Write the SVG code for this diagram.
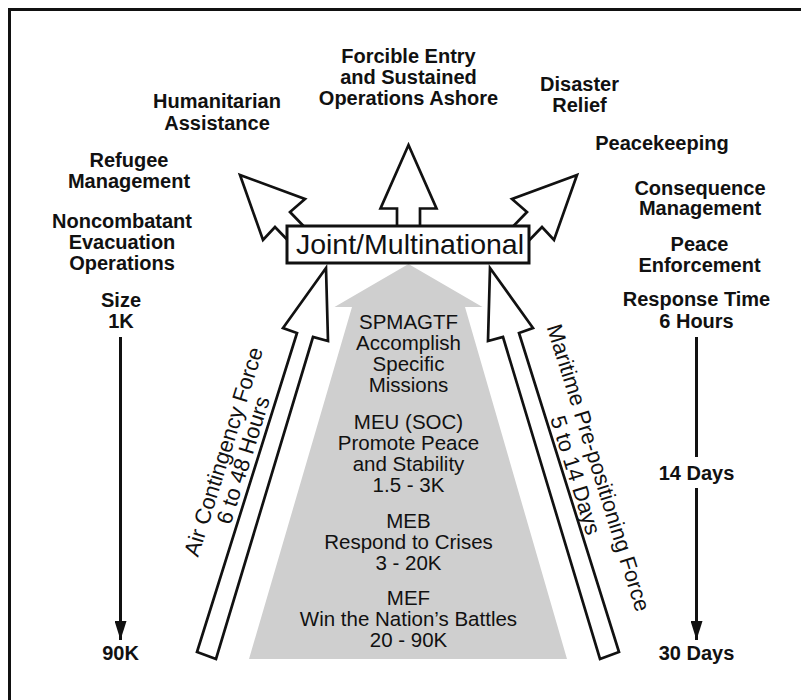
<svg xmlns="http://www.w3.org/2000/svg" width="801" height="700" viewBox="0 0 801 700">
<style>
.b{font-family:"Liberation Sans",Arial,Helvetica,sans-serif;font-weight:bold;font-size:20px;fill:#111;text-anchor:middle}
.n{font-family:"Liberation Sans",Arial,Helvetica,sans-serif;font-size:20.5px;fill:#111;text-anchor:middle}
.r{font-family:"Liberation Sans",Arial,Helvetica,sans-serif;font-size:22px;fill:#111;text-anchor:middle}
.out{fill:#fff;stroke:#111;stroke-width:2.7;stroke-linejoin:miter}
.ln{stroke:#111;stroke-width:3;fill:none}
</style>
<defs>
<marker id="ah" viewBox="0 0 19 12" refX="19" refY="6" markerWidth="19" markerHeight="12" markerUnits="userSpaceOnUse" orient="auto">
<path d="M0,0 L19,6 L0,12 Z" fill="#111"/>
</marker>
</defs>
<rect width="801" height="700" fill="#fff"/>
<path d="M9.5,700 V9.5 H801" fill="none" stroke="#111" stroke-width="3"/>

<g id="gray-pyramid">
<polygon points="408.5,264 334.5,307 352,307 249,659 567,659 465,307 482.5,307" fill="#cfcfcf"/>
</g>

<g id="arrows">
<polygon class="out" points="408.5,145 436.5,208.5 420,208.5 420,229 397,229 397,208.5 380.5,208.5"/>
<polygon class="out" points="240,175 305,199 290,212 318,241 300,253 275,227 263,240"/>
<polygon class="out" points="577,175 512,199 527,212 499,241 517,253 542,227 554,240"/>
<polygon class="out" points="326,268 328,341 313,337 216,659 197,652 297,333 283,328"/>
<polygon class="out" points="490,268 488,341 503,337 600,659 619,652 519,333 533,328"/>
</g>

<g id="joint">
<rect x="287" y="226" width="242" height="37" fill="#fff" stroke="#111" stroke-width="3"/>
<text class="n" x="410" y="253.5" style="font-size:28.5px">Joint/Multinational</text>
</g>

<g id="connectors">
<line class="ln" x1="120.5" y1="337" x2="120.5" y2="640" marker-end="url(#ah)"/>
<line class="ln" x1="696.5" y1="337" x2="696.5" y2="457"/>
<line class="ln" x1="696.5" y1="488" x2="696.5" y2="640" marker-end="url(#ah)"/>
</g>

<g id="forcible-entry">
<text class="b" x="408.5" y="63">Forcible Entry</text>
<text class="b" x="408.5" y="84">and Sustained</text>
<text class="b" x="408.5" y="105">Operations Ashore</text>
</g>
<g id="humanitarian">
<text class="b" x="217" y="108">Humanitarian</text>
<text class="b" x="217" y="130">Assistance</text>
</g>
<g id="disaster">
<text class="b" x="579.5" y="90.5">Disaster</text>
<text class="b" x="579.5" y="111.5">Relief</text>
</g>
<g id="peacekeeping">
<text class="b" x="662" y="150">Peacekeeping</text>
</g>
<g id="refugee">
<text class="b" x="129" y="166.5">Refugee</text>
<text class="b" x="129" y="187.5">Management</text>
</g>
<g id="consequence">
<text class="b" x="700" y="194.5">Consequence</text>
<text class="b" x="700" y="215">Management</text>
</g>
<g id="noncombatant">
<text class="b" x="122" y="227.5">Noncombatant</text>
<text class="b" x="122" y="248.5">Evacuation</text>
<text class="b" x="122" y="269.5">Operations</text>
</g>
<g id="peace-enforcement">
<text class="b" x="699.5" y="250.5">Peace</text>
<text class="b" x="699.5" y="271.5">Enforcement</text>
</g>
<g id="size">
<text class="b" x="121" y="306.5">Size</text>
<text class="b" x="121" y="328">1K</text>
</g>
<g id="size-end">
<text class="b" x="120.5" y="660">90K</text>
</g>
<g id="response">
<text class="b" x="696.5" y="306">Response Time</text>
<text class="b" x="696.5" y="328">6 Hours</text>
</g>
<g id="days14">
<text class="b" x="696.5" y="480">14 Days</text>
</g>
<g id="days30">
<text class="b" x="696.5" y="660">30 Days</text>
</g>

<g id="spmagtf">
<text class="n" x="408.5" y="328.5">SPMAGTF</text>
<text class="n" x="408.5" y="349.5">Accomplish</text>
<text class="n" x="408.5" y="370.5">Specific</text>
<text class="n" x="408.5" y="391.5">Missions</text>
</g>
<g id="meu">
<text class="n" x="408.5" y="429">MEU (SOC)</text>
<text class="n" x="408.5" y="450">Promote Peace</text>
<text class="n" x="408.5" y="471">and Stability</text>
<text class="n" x="408.5" y="492">1.5 - 3K</text>
</g>
<g id="meb">
<text class="n" x="408.5" y="527.5">MEB</text>
<text class="n" x="408.5" y="548.5">Respond to Crises</text>
<text class="n" x="408.5" y="569.5">3 - 20K</text>
</g>
<g id="mef">
<text class="n" x="408.5" y="605">MEF</text>
<text class="n" x="408.5" y="626">Win the Nation’s Battles</text>
<text class="n" x="408.5" y="647">20 - 90K</text>
</g>

<g id="air-contingency">
<text class="r" transform="translate(230.6,453.9) rotate(-72.6)">Air Contingency Force</text>
<text class="r" transform="translate(250.2,462.4) rotate(-72.6)">6 to 48 Hours</text>
</g>
<g id="maritime">
<text class="r" transform="translate(591.4,469.9) rotate(72.6)">Maritime Pre-positioning Force</text>
<text class="r" transform="translate(568.4,477.4) rotate(72.6)">5 to 14 Days</text>
</g>
</svg>
